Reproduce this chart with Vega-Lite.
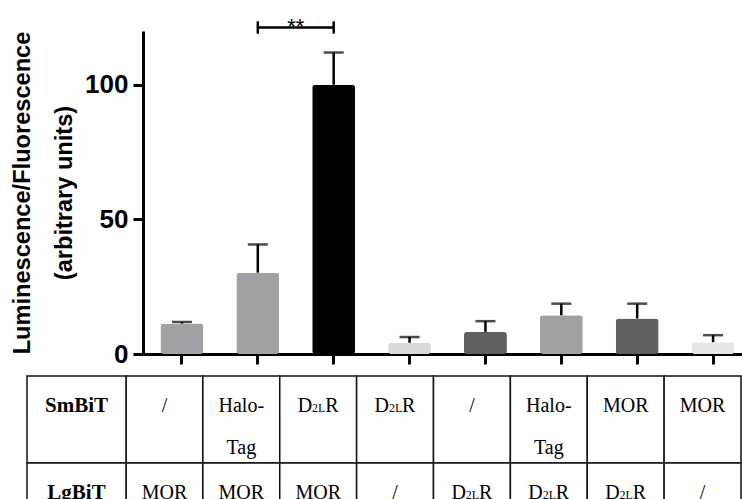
{
  "$schema": "https://vega.github.io/schema/vega-lite/v6.json",
  "padding": {"left": 10, "top": 16, "right": 0, "bottom": 0},
  "background": "white",
  "spacing": 8,
  "config": {"view": {"stroke": null}},
  "datasets": {
    "bars": [
      {"id": "1", "value": 11.3, "upper": 11.9},
      {"id": "2", "value": 30.2, "upper": 40.7},
      {"id": "3", "value": 100, "upper": 112},
      {"id": "4", "value": 4.2, "upper": 6.3},
      {"id": "5", "value": 8.2, "upper": 12.2},
      {"id": "6", "value": 14.4, "upper": 18.7},
      {"id": "7", "value": 13.2, "upper": 18.7},
      {"id": "8", "value": 4.4, "upper": 7.0}
    ],
    "cells": [
      {"row": "SmBiT", "col": "0", "txt": "SmBiT"},
      {"row": "SmBiT", "col": "1", "txt": "/"},
      {"row": "SmBiT", "col": "2", "txt": "Halo-\nTag"},
      {"row": "SmBiT", "col": "3", "txt": "D2LR"},
      {"row": "SmBiT", "col": "4", "txt": "D2LR"},
      {"row": "SmBiT", "col": "5", "txt": "/"},
      {"row": "SmBiT", "col": "6", "txt": "Halo-\nTag"},
      {"row": "SmBiT", "col": "7", "txt": "MOR"},
      {"row": "SmBiT", "col": "8", "txt": "MOR"},
      {"row": "LgBiT", "col": "0", "txt": "LgBiT"},
      {"row": "LgBiT", "col": "1", "txt": "MOR"},
      {"row": "LgBiT", "col": "2", "txt": "MOR"},
      {"row": "LgBiT", "col": "3", "txt": "MOR"},
      {"row": "LgBiT", "col": "4", "txt": "/"},
      {"row": "LgBiT", "col": "5", "txt": "D2LR"},
      {"row": "LgBiT", "col": "6", "txt": "D2LR"},
      {"row": "LgBiT", "col": "7", "txt": "D2LR"},
      {"row": "LgBiT", "col": "8", "txt": "/"}
    ]
  },
  "vconcat": [
    {
      "width": 609,
      "height": 323,
      "encoding": {
        "x": {
          "field": "id", "type": "nominal", "sort": null,
          "scale": {"paddingInner": 0.434, "paddingOuter": 0.23},
          "axis": {"labels": false, "title": null, "tickSize": 10, "tickWidth": 3, "tickColor": "black", "domainColor": "black", "domainWidth": 3}
        }
      },
      "layer": [
        {
          "data": {"name": "bars"},
          "mark": {"type": "bar", "cornerRadius": 3},
          "encoding": {
            "y": {
              "field": "value", "type": "quantitative",
              "scale": {"domain": [0, 120], "nice": false},
              "axis": {
                "values": [0, 50, 100],
                "title": ["Luminescence/Fluorescence", "(arbitrary units)"],
                "titleFont": "Liberation Sans", "titleFontWeight": "bold", "titleFontSize": 23.6, "titleColor": "black", "titleLineHeight": 42, "titlePadding": 8,
                "labelFont": "Liberation Sans", "labelFontWeight": "bold", "labelFontSize": 26, "labelColor": "black", "labelPadding": 5,
                "tickSize": 10, "tickWidth": 3, "tickColor": "black", "domainColor": "black", "domainWidth": 3, "grid": false
              }
            },
            "color": {
              "field": "id", "type": "nominal", "legend": null,
              "scale": {"domain": ["1","2","3","4","5","6","7","8"], "range": ["#a1a1a5","#a1a1a5","#000000","#d9d9d9","#616161","#a1a1a5","#616161","#e6e6e6"]}
            }
          }
        },
        {
          "data": {"name": "bars"},
          "mark": {"type": "rule", "color": "black", "strokeWidth": 2.5},
          "encoding": {"y": {"field": "value", "type": "quantitative"}, "y2": {"field": "upper"}}
        },
        {
          "data": {"name": "bars"},
          "mark": {"type": "tick", "color": "black", "size": 20, "thickness": 2.5, "orient": "horizontal"},
          "encoding": {"y": {"field": "upper", "type": "quantitative"}}
        },
        {
          "data": {"values": [{"from": "2", "to": "3", "y": 121.3}]},
          "mark": {"type": "rule", "color": "black", "strokeWidth": 2.5},
          "encoding": {"x": {"field": "from", "type": "nominal"}, "x2": {"field": "to"}, "y": {"field": "y", "type": "quantitative"}}
        },
        {
          "data": {"values": [{"end": "2", "lo": 119, "hi": 123.6}, {"end": "3", "lo": 119, "hi": 123.6}]},
          "mark": {"type": "rule", "color": "black", "strokeWidth": 2.5},
          "encoding": {"x": {"field": "end", "type": "nominal"}, "y": {"field": "lo", "type": "quantitative"}, "y2": {"field": "hi"}}
        },
        {
          "data": {"values": [{"from": "2", "y": 121.3, "label": "**"}]},
          "mark": {"type": "text", "font": "Liberation Sans", "fontSize": 22, "color": "black", "dx": 38, "dy": 6.5, "baseline": "alphabetic", "align": "center"},
          "encoding": {"x": {"field": "from", "type": "nominal"}, "y": {"field": "y", "type": "quantitative"}, "text": {"field": "label"}}
        }
      ]
    },
    {
      "width": 609,
      "height": 174,
      "data": {"name": "cells"},
      "resolve": {"scale": {"x": "independent"}},
      "layer": [
        {
          "transform": [{"filter": "datum.col != '0'"}],
          "encoding": {
            "x": {"field": "col", "type": "nominal", "sort": null, "axis": null, "scale": {"range": [-17, 598], "paddingInner": 0, "paddingOuter": 0}}
          },
          "layer": [
            {
              "mark": {"type": "rect", "fill": "white", "stroke": "#111111", "strokeWidth": 1.5},
              "encoding": {"y": {"field": "row", "type": "nominal", "sort": ["SmBiT", "LgBiT"], "axis": null, "scale": {"paddingInner": 0, "paddingOuter": 0}}}
            },
            {
              "transform": [{"filter": "datum.txt != 'D2LR'"}],
              "mark": {"type": "text", "font": "Liberation Serif", "fontSize": 20, "color": "black", "baseline": "alphabetic", "align": "center", "dy": 36, "lineBreak": "\n", "lineHeight": 42},
              "encoding": {"y": {"field": "row", "type": "nominal", "sort": ["SmBiT", "LgBiT"], "bandPosition": 0}, "text": {"field": "txt"}}
            },
            {
              "transform": [{"filter": "datum.txt == 'D2LR'"}],
              "mark": {"type": "text", "text": "D", "font": "Liberation Serif", "fontSize": 20, "color": "black", "baseline": "alphabetic", "align": "right", "dx": -6, "dy": 36},
              "encoding": {"y": {"field": "row", "type": "nominal", "sort": ["SmBiT", "LgBiT"], "bandPosition": 0}}
            },
            {
              "transform": [{"filter": "datum.txt == 'D2LR'"}],
              "mark": {"type": "text", "text": "2L", "font": "Liberation Serif", "fontSize": 12, "color": "black", "baseline": "alphabetic", "align": "center", "dx": 0.5, "dy": 36},
              "encoding": {"y": {"field": "row", "type": "nominal", "sort": ["SmBiT", "LgBiT"], "bandPosition": 0}}
            },
            {
              "transform": [{"filter": "datum.txt == 'D2LR'"}],
              "mark": {"type": "text", "text": "R", "font": "Liberation Serif", "fontSize": 20, "color": "black", "baseline": "alphabetic", "align": "left", "dx": 7, "dy": 36},
              "encoding": {"y": {"field": "row", "type": "nominal", "sort": ["SmBiT", "LgBiT"], "bandPosition": 0}}
            }
          ]
        },
        {
          "transform": [{"filter": "datum.col == '0'"}],
          "encoding": {
            "x": {"field": "col", "type": "nominal", "axis": null, "scale": {"range": [-116, -17], "paddingInner": 0, "paddingOuter": 0}}
          },
          "layer": [
            {
              "mark": {"type": "rect", "fill": "white", "stroke": "#111111", "strokeWidth": 1.5},
              "encoding": {"y": {"field": "row", "type": "nominal", "sort": ["SmBiT", "LgBiT"], "axis": null}}
            },
            {
              "mark": {"type": "text", "font": "Liberation Serif", "fontWeight": "bold", "fontSize": 21, "color": "black", "baseline": "alphabetic", "align": "center", "dy": 36},
              "encoding": {"y": {"field": "row", "type": "nominal", "sort": ["SmBiT", "LgBiT"], "bandPosition": 0}, "text": {"field": "txt"}}
            }
          ]
        }
      ]
    }
  ]
}
